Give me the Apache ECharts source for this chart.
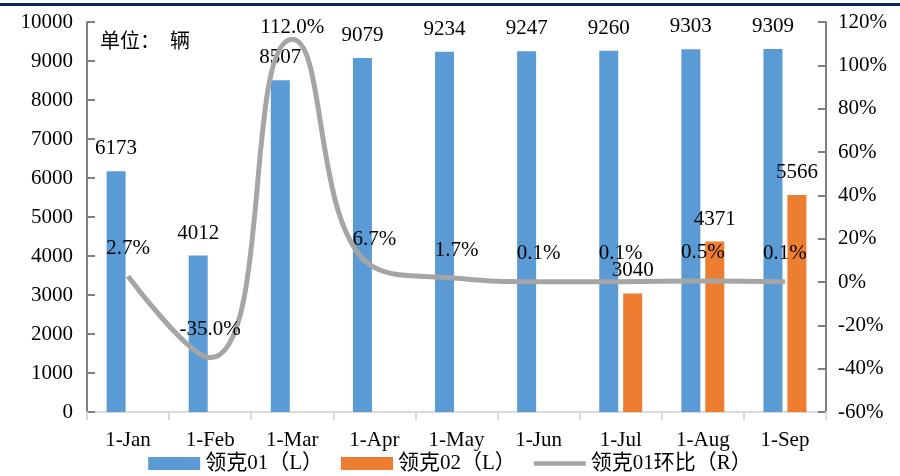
<!DOCTYPE html>
<html>
<head>
<meta charset="utf-8">
<script src="https://cdn.jsdelivr.net/npm/echarts@6/dist/echarts.min.js"></script>
<style>
html, body { margin: 0; padding: 0; background: #fff; }
#chart { width: 900px; height: 476px; }
</style>
</head>
<body>
<div id="chart"></div>
<script>
var categories = ['1-Jan', '1-Feb', '1-Mar', '1-Apr', '1-May', '1-Jun', '1-Jul', '1-Aug', '1-Sep'];
var lynk01 = [6173, 4012, 8507, 9079, 9234, 9247, 9260, 9303, 9309];
var lynk02 = [null, null, null, null, null, null, 3040, 4371, 5566];
var lynk01Mom = [2.7, -35.0, 112.0, 6.7, 1.7, 0.1, 0.1, 0.5, 0.1];

var FONT = "'Liberation Serif', 'Noto Sans CJK SC', serif";

var myChart = echarts.init(document.getElementById('chart'));
myChart.setOption({
  animation: false,
  textStyle: { fontFamily: FONT },
  grid: { left: 87, right: 74, top: 22, bottom: 64 },
  graphic: [{
    type: 'rect',
    shape: { x: 0, y: 3, width: 900, height: 3 },
    style: { fill: '#0c2461' }
  }, {
    type: 'text',
    left: 100, top: 33,
    style: { text: '单位：  辆', fontSize: 20, fontFamily: FONT, fill: '#000' }
  }],
  legend: {
    bottom: -3,
    left: 'center',
    itemWidth: 52,
    itemHeight: 13,
    itemGap: 18,
    textStyle: { fontSize: 21, color: '#000', fontFamily: FONT },
    data: [
      { name: '领克01（L）', icon: 'rect' },
      { name: '领克02（L）', icon: 'rect' },
      { name: '领克01环比（R）', icon: 'path://M0,0 L56,0 L56,5 L0,5 Z' }
    ]
  },
  xAxis: [{
    type: 'category',
    data: categories,
    axisLine: { lineStyle: { color: '#d9d9d9', width: 2 } },
    axisTick: { show: true, length: 8, lineStyle: { color: '#d9d9d9', width: 2 } },
    axisLabel: { fontSize: 21, color: '#000', margin: 18, fontFamily: FONT }
  }],
  yAxis: [{
    type: 'value',
    min: 0, max: 10000, interval: 1000,
    splitLine: { show: false },
    axisLine: { show: true, lineStyle: { color: '#808080', width: 2 } },
    axisTick: { show: true, inside: true, length: 8, lineStyle: { color: '#808080', width: 2 } },
    axisLabel: { fontSize: 21, color: '#000', margin: 14, fontFamily: FONT, formatter: function (v) { return String(v); } }
  }, {
    type: 'value',
    min: -60, max: 120, interval: 20,
    splitLine: { show: false },
    axisLine: { show: true, lineStyle: { color: '#808080', width: 2 } },
    axisTick: { show: true, inside: true, length: 8, lineStyle: { color: '#808080', width: 2 } },
    axisLabel: { fontSize: 21, color: '#000', margin: 12, formatter: '{value}%', fontFamily: FONT }
  }],
  series: [{
    name: '领克01（L）',
    type: 'bar',
    data: lynk01,
    barWidth: 19,
    barGap: '26%',
    itemStyle: { color: '#5b9bd5' },
    label: { show: true, position: 'top', distance: 12, fontSize: 21, color: '#000', fontFamily: FONT }
  }, {
    name: '领克02（L）',
    type: 'bar',
    data: lynk02,
    barWidth: 19,
    itemStyle: { color: '#ed7d31' },
    label: { show: true, position: 'top', distance: 12, fontSize: 21, color: '#000', fontFamily: FONT }
  }, {
    name: '领克01环比（R）',
    type: 'line',
    yAxisIndex: 1,
    smooth: 0.5,
    symbol: 'circle',
    symbolSize: 1,
    showSymbol: true,
    data: lynk01Mom.map(function (v, i) {
      return i === 2 ? { value: v, label: { distance: 1 } } : v;
    }),
    lineStyle: { color: '#a5a5a5', width: 5 },
    itemStyle: { color: '#a5a5a5' },
    label: {
      show: true, position: 'top', distance: 17, fontSize: 21, color: '#000', fontFamily: FONT,
      formatter: function (p) { return p.value.toFixed(1) + '%'; }
    },
    z: 5
  }]
});
</script>
</body>
</html>
